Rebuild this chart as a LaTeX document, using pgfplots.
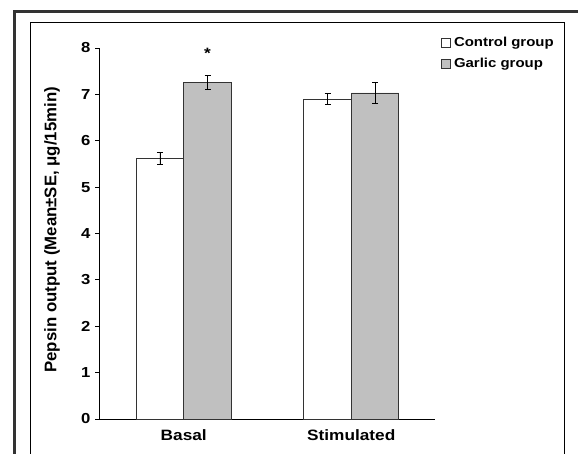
\documentclass[border=0pt]{standalone}
\usepackage{fontspec}
\setmainfont{Liberation Sans}[FakeStretch=1.15]
\newfontfamily\plainsans{Liberation Sans}
\usepackage{pgfplots}
\pgfplotsset{compat=1.18}
\definecolor{garlic}{HTML}{C0C0C0}
\definecolor{frame}{HTML}{333333}

\begin{document}
\begin{tikzpicture}
\begin{axis}[
  name=ax, at={(0pt,0pt)}, anchor=south west,
  scale only axis, width=335pt, height=371pt,
  ybar=0pt, bar width=47.5pt,
  xmin=-0.5, xmax=1.5, ymin=0, ymax=8,
  xtick={0,1}, xticklabels={Basal,Stimulated},
  ytick={0,1,...,8},
  axis x line*=bottom, axis y line*=left,
  x axis line style={shorten <=-4.5pt},
  tick style={black, line width=1pt},
  major tick length=4.5pt,
  xtick style={draw=none},
  tick align=outside,
  axis line style={black, line width=1pt},
  /pgf/number format/assume math mode=true,
  yticklabel style={font=\fontsize{14.5}{16}\selectfont\bfseries, xshift=-1.5pt},
  xticklabel style={font=\fontsize{15}{17}\selectfont\bfseries, yshift=-3pt},
  ylabel={Pepsin output (Mean±SE, μg/15min)},
  every axis y label/.style={at={(axis description cs:-0.143,0.51)}, rotate=90, anchor=center,
    font=\plainsans\fontsize{16.8}{19}\selectfont\bfseries},
  legend style={at={(axis description cs:1.018,1.03)}, anchor=north west,
    draw=none, fill=none, font=\fontsize{13}{15}\selectfont\bfseries,
    row sep=10pt, inner sep=0pt, cells={anchor=west},
    nodes={inner xsep=3pt, inner ysep=0pt}},
  legend image code/.code={\draw[#1, line width=0.8pt] (0pt,-4.5pt) rectangle (9pt,4.5pt);},
  error bars/error bar style={black, line width=0.8pt},
  error bars/error mark options={rotate=90, mark size=3pt, line width=0.8pt},
  clip=false,
]
\addplot[draw=black!80, fill=white, line width=0.8pt,
  error bars/.cd, y dir=both, y explicit]
  coordinates {(0,5.62) +- (0,0.12) (1,6.90) +- (0,0.115)};
\addplot[draw=black!80, fill=garlic, line width=0.8pt,
  point meta=explicit symbolic,
  nodes near coords, nodes near coords align={center},
  every node near coord/.append style={font=\fontsize{15}{17}\selectfont\bfseries, anchor=base, yshift=24pt},
  error bars/.cd, y dir=both, y explicit]
  coordinates {(0,7.26) +- (0,0.15) [*] (1,7.03) +- (0,0.23) [{}]};
\legend{Control group, Garlic group}
\end{axis}
% picture frames
\draw[frame, line width=3pt] (-85.5pt,-60pt) -- (-85.5pt,407pt) -- (520pt,407pt);
\draw[black, line width=1pt] (-69pt,-60pt) -- (-69pt,396pt) -- (464pt,396pt) -- (464pt,-60pt);
\pgfresetboundingbox
\path[use as bounding box] (-100pt,-34pt) rectangle (478pt,419pt);
\end{tikzpicture}
\end{document}
